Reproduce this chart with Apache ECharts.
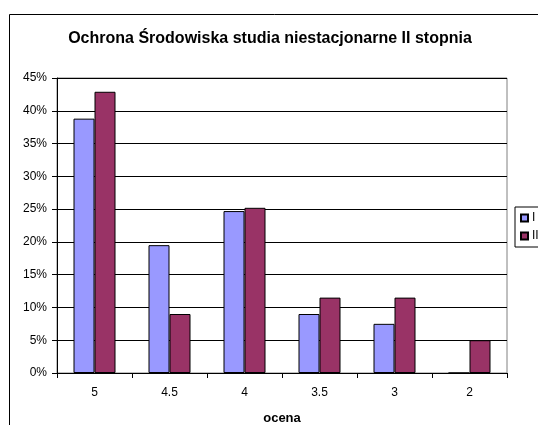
<!DOCTYPE html>
<html>
<head>
<meta charset="utf-8">
<script src="https://cdn.jsdelivr.net/npm/echarts@6/dist/echarts.min.js"></script>
<style>
  html, body { margin: 0; padding: 0; background: #fff; }
  #chart { width: 538px; height: 425px; }
</style>
</head>
<body>
<div id="chart"></div>
<script>
// Grade categories and the share of each grade (percent) for the two groups
const categories = ['5', '4.5', '4', '3.5', '3', '2'];
const seriesNames = ['I', 'II'];
const valuesI = [38.8, 19.5, 24.7, 9.0, 7.5, 0];
const valuesII = [42.9, 9.0, 25.2, 11.5, 11.5, 5.0];
const yTicks = { min: 0, max: 45, step: 5 };

const FONT = 'Liberation Sans, Arial, sans-serif';
const chart = echarts.init(document.getElementById('chart'));

chart.setOption({
  animation: false,
  backgroundColor: '#fff',
  graphic: [{
    type: 'rect',
    shape: { x: 9.5, y: 14.5, width: 600, height: 500 },
    style: { fill: 'none', stroke: '#000', lineWidth: 1 },
    silent: true,
    z: -1
  }],
  title: {
    text: 'Ochrona Środowiska studia niestacjonarne II stopnia',
    left: 270,
    textAlign: 'center',
    top: 31,
    padding: 0,
    textStyle: { fontFamily: FONT, fontSize: 16, fontWeight: 'bold', color: '#000' }
  },
  legend: {
    left: 515,
    top: 207,
    orient: 'vertical',
    itemWidth: 7,
    itemHeight: 7,
    itemGap: 6,
    padding: [5, 40, 5, 5],
    borderColor: '#000',
    borderWidth: 1,
    icon: 'rect',
    textStyle: { fontFamily: FONT, fontSize: 12, lineHeight: 12, color: '#000', padding: [0, 0, 0, -1] },
    data: seriesNames
  },
  grid: {
    left: 57, right: 31, top: 78, bottom: 52,
    containLabel: false,
    outerBoundsMode: 'none',
    show: true, borderColor: '#808080', borderWidth: 1, backgroundColor: '#fff'
  },
  xAxis: {
    type: 'category',
    data: categories,
    name: 'ocena',
    nameLocation: 'middle',
    nameGap: 39,
    nameTextStyle: { fontFamily: FONT, fontSize: 13, fontWeight: 'bold', color: '#000' },
    axisLine: { lineStyle: { color: '#000', width: 1 } },
    axisTick: { show: true, length: 5, lineStyle: { color: '#000' } },
    axisLabel: { fontFamily: FONT, fontSize: 12, color: '#000', margin: 14 }
  },
  yAxis: {
    type: 'value',
    min: yTicks.min,
    max: yTicks.max,
    interval: yTicks.step,
    axisLine: { show: true, lineStyle: { color: '#000', width: 1 } },
    axisTick: { show: true, length: 5, lineStyle: { color: '#000' } },
    axisLabel: { fontFamily: FONT, fontSize: 12, color: '#000', margin: 10, formatter: '{value}%' },
    splitLine: { show: true, lineStyle: { color: '#000', width: 1 } }
  },
  series: [
    {
      name: seriesNames[0],
      type: 'bar',
      data: valuesI,
      barGap: '0%',
      barCategoryGap: '44%',
      itemStyle: { color: '#9999FF', borderColor: '#000', borderWidth: 1 }
    },
    {
      name: seriesNames[1],
      type: 'bar',
      data: valuesII,
      barGap: '0%',
      barCategoryGap: '44%',
      itemStyle: { color: '#993366', borderColor: '#000', borderWidth: 1 }
    }
  ]
});
</script>
</body>
</html>
